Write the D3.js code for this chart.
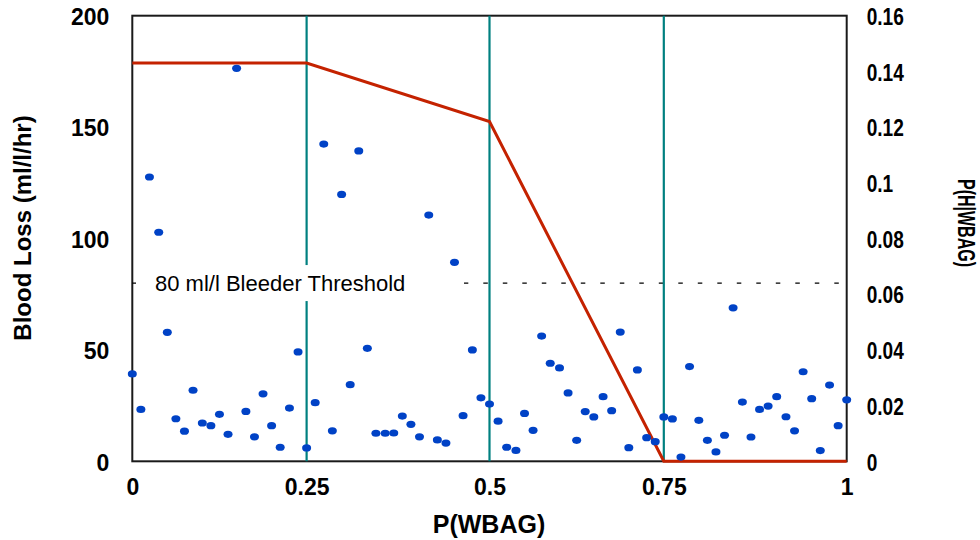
<!DOCTYPE html>
<html><head><meta charset="utf-8">
<script src="https://cdn.jsdelivr.net/npm/d3@7/dist/d3.min.js"></script>
<style>body{margin:0;background:#fff}svg{display:block}</style>
</head><body>
<svg id="chart" width="980" height="540"></svg>
<script>
// ---- data ----
const pWbag = [0.000,0.012,0.024,0.037,0.049,0.061,0.073,0.085,0.098,0.110,
  0.122,0.134,0.146,0.159,0.171,0.183,0.195,0.207,0.220,0.232,
  0.244,0.256,0.268,0.280,0.293,0.305,0.317,0.329,0.341,0.354,
  0.366,0.378,0.390,0.402,0.415,0.427,0.439,0.451,0.463,0.476,
  0.488,0.500,0.512,0.524,0.537,0.549,0.561,0.573,0.585,0.598,
  0.610,0.622,0.634,0.646,0.659,0.671,0.683,0.695,0.707,0.720,
  0.732,0.744,0.756,0.768,0.780,0.793,0.805,0.817,0.829,0.841,
  0.854,0.866,0.878,0.890,0.902,0.915,0.927,0.939,0.951,0.963,
  0.976,0.988,1.000];
const bloodLoss = [39.2,23.3,127.6,102.8,57.9,19.1,13.5,31.9,17.2,16.0,
  21.1,12.1,176.4,22.4,11.0,30.3,16.0,6.3,23.9,49.1,
  6.0,26.3,142.4,13.7,119.8,34.4,139.3,50.7,12.6,12.6,
  12.7,20.3,16.6,11.0,110.5,9.6,8.2,89.3,20.5,50.0,
  28.5,25.7,18.0,6.3,4.9,21.5,13.9,56.2,44.0,41.9,
  30.7,9.4,22.3,19.9,29.0,22.7,58.0,6.1,41.0,10.6,
  8.8,19.9,19.0,1.9,42.5,18.4,9.4,4.2,11.7,68.9,
  26.6,10.9,23.3,24.8,29.0,20.0,13.7,40.2,28.1,4.8,
  34.2,16.0,27.6];
const posteriorX = [0, 0.244, 0.5, 0.744, 1];
const posteriorY = [0.143, 0.143, 0.122, 0, 0];
const boundaryX = [0.244, 0.5, 0.744];
const bleederThreshold = 80;
const thresholdLabel = "80 ml/l Bleeder Threshold";
const xTickValues = [0, 0.244, 0.5, 0.744, 1];
const xTickLabels = ["0", "0.25", "0.5", "0.75", "1"];
const leftTicks = [0, 50, 100, 150, 200];
const rightTicks = [0, 0.02, 0.04, 0.06, 0.08, 0.1, 0.12, 0.14, 0.16];
const xTitle = "P(WBAG)";
const yLeftTitle = "Blood Loss (ml/l/hr)";
const yRightTitle = "P(H|WBAG)";

// ---- layout ----
const L = 132.3, R = 846.7, T = 15.7, B = 461.3;
const FONT = "'Liberation Sans', Arial, sans-serif";
const svg = d3.select("#chart");

const x = d3.scaleLinear().domain([0, 1]).range([L, R]);
const yL = d3.scaleLinear().domain([0, 200]).range([B, T]);
const yR = d3.scaleLinear().domain([0, 0.16]).range([B, T]);

// frame
svg.append("rect").attr("x", L).attr("y", T).attr("width", R - L).attr("height", B - T)
  .attr("fill", "#fff").attr("stroke", "#1a1a1a").attr("stroke-width", 2);

// threshold dashed line
svg.append("line").attr("x1", L).attr("x2", R)
  .attr("y1", yL(bleederThreshold)).attr("y2", yL(bleederThreshold))
  .attr("stroke", "#000").attr("stroke-width", 1.2).attr("stroke-dasharray", "4.5,15");

// teal boundaries
svg.selectAll(".bnd").data(boundaryX).join("line").attr("class", "bnd")
  .attr("x1", d => x(d)).attr("x2", d => x(d)).attr("y1", T).attr("y2", B)
  .attr("stroke", "#008080").attr("stroke-width", 2.2);

// label with white box
const ly = yL(bleederThreshold);
svg.append("rect").attr("x", 136).attr("y", ly - 18).attr("width", 328).attr("height", 36).attr("fill", "#fff");
svg.append("text").attr("x", 155).attr("y", ly + 7.5)
  .attr("font-family", FONT).attr("font-size", 22).attr("fill", "#000").text(thresholdLabel);

// posterior red line
const post = posteriorX.map((d, i) => [d, posteriorY[i]]);
svg.append("path").datum(post)
  .attr("d", d3.line().x(d => x(d[0])).y(d => yR(d[1])))
  .attr("fill", "none").attr("stroke", "#C42200").attr("stroke-width", 3).attr("stroke-linejoin", "miter");

// dots
svg.selectAll(".dot").data(pWbag.map((d, i) => [d, bloodLoss[i]])).join("ellipse").attr("class", "dot")
  .attr("cx", d => x(d[0])).attr("cy", d => yL(d[1])).attr("rx", 4.5).attr("ry", 3.6)
  .attr("fill", "#0042C6");

// axes
const gl = svg.append("g").attr("transform", `translate(${L},0)`)
  .call(d3.axisLeft(yL).tickValues(leftTicks).tickSize(0).tickPadding(23).tickFormat(d3.format("d")));
const gb = svg.append("g").attr("transform", `translate(0,${B})`)
  .call(d3.axisBottom(x).tickValues(xTickValues).tickSize(0).tickPadding(17)
    .tickFormat((d, i) => xTickLabels[i]));
const gr = svg.append("g").attr("transform", `translate(${R},0)`)
  .call(d3.axisRight(yR).tickValues(rightTicks).tickSize(0).tickPadding(20).tickFormat(d => String(d)));
[gl, gb, gr].forEach(g => {
  g.select(".domain").remove();
  g.selectAll("text").attr("font-family", FONT).attr("font-size", 23).attr("font-weight", "bold").attr("fill", "#000");
});
gl.selectAll("text").attr("dy", "0.38em");
gr.selectAll("text").attr("x", 20 / 0.83).attr("transform", "scale(0.83,1)").attr("dy", "0.38em");

// titles
svg.append("text").attr("x", 489).attr("y", 533).attr("text-anchor", "middle")
  .attr("font-family", FONT).attr("font-size", 25).attr("font-weight", "bold").text(xTitle);
svg.append("text").attr("transform", "translate(31,228) rotate(-90)").attr("text-anchor", "middle")
  .attr("font-family", FONT).attr("font-size", 24).attr("font-weight", "bold").text(yLeftTitle);
svg.append("text").attr("transform", "translate(958,223) rotate(90)").attr("text-anchor", "middle")
  .attr("font-family", FONT).attr("font-size", 23).attr("font-weight", "bold")
  .attr("textLength", 88).attr("lengthAdjust", "spacingAndGlyphs").text(yRightTitle);
</script>
</body></html>
